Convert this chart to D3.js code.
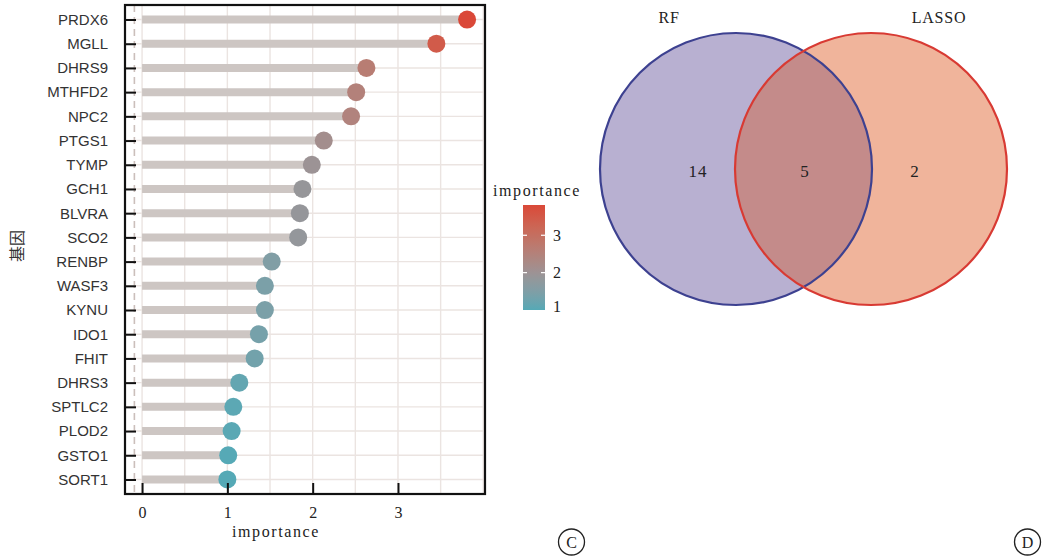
<!DOCTYPE html>
<html>
<head>
<meta charset="utf-8">
<script src="https://cdn.jsdelivr.net/npm/d3@7"></script>
<style>
  html, body { margin: 0; padding: 0; background: #fff; }
  svg { display: block; }
</style>
</head>
<body>
<svg id="chart" width="1053" height="560"></svg>
<script>
// Gene importance (random forest), top to bottom
const genes = ["PRDX6","MGLL","DHRS9","MTHFD2","NPC2","PTGS1","TYMP","GCH1","BLVRA","SCO2",
               "RENBP","WASF3","KYNU","IDO1","FHIT","DHRS3","SPTLC2","PLOD2","GSTO1","SORT1"];
const importance = [3.81,3.45,2.63,2.51,2.45,2.13,1.99,1.88,1.85,1.83,
                    1.52,1.44,1.44,1.37,1.32,1.14,1.07,1.05,1.01,1.00];
const xTicks = [0, 1, 2, 3];
const legendTicks = [1, 2, 3];
const refLine = -0.09;

// Venn counts: RF only, shared, LASSO only
const vennSets = ["RF", "LASSO"];
const vennCounts = [14, 5, 2];

const svg = d3.select("#chart");

// ---------- Lollipop chart ----------
const L = 125, R = 485, T = 5, B = 494;
const x = d3.scaleLinear().domain([-0.2, 4.02]).range([L, R]);
const y = d3.scalePoint().domain(genes).range([T, B]).padding(0.6);

const vmin = d3.min(importance), vmax = d3.max(importance);
const color = d3.scaleLinear()
  .domain([vmin, 1.95, vmax])
  .range(["#55a9b6", "#9a9497", "#da4838"])
  .interpolate(d3.interpolateLab);

const plot = svg.append("g");

// grid
const gridX = d3.range(0, 4.01, 0.5);
plot.append("g").selectAll("line").data(gridX).join("line")
  .attr("x1", d => x(d)).attr("x2", d => x(d))
  .attr("y1", T).attr("y2", B)
  .attr("stroke", "#ebe4e1").attr("stroke-width", 1.4);
plot.append("g").selectAll("line").data(genes).join("line")
  .attr("x1", L).attr("x2", R)
  .attr("y1", d => y(d)).attr("y2", d => y(d))
  .attr("stroke", "#ebe4e1").attr("stroke-width", 1.4);

// dashed reference line
plot.append("line")
  .attr("x1", x(refLine)).attr("x2", x(refLine))
  .attr("y1", T).attr("y2", B)
  .attr("stroke", "#cbbfbb").attr("stroke-width", 1.6)
  .attr("stroke-dasharray", "7,5");

// stems
plot.append("g").selectAll("line").data(genes).join("line")
  .attr("x1", x(0)).attr("x2", (d, i) => x(importance[i]))
  .attr("y1", d => y(d)).attr("y2", d => y(d))
  .attr("stroke", "#cdc6c3").attr("stroke-width", 8);

// heads
plot.append("g").selectAll("circle").data(genes).join("circle")
  .attr("cx", (d, i) => x(importance[i]))
  .attr("cy", d => y(d))
  .attr("r", 9)
  .attr("fill", (d, i) => color(importance[i]));

// frame
plot.append("rect")
  .attr("x", L).attr("y", T).attr("width", R - L).attr("height", B - T)
  .attr("fill", "none").attr("stroke", "#111").attr("stroke-width", 2.2);

// y axis (inward ticks)
const yAxis = plot.append("g").attr("transform", `translate(${L},0)`)
  .call(d3.axisLeft(y).tickSizeInner(-11).tickSizeOuter(0).tickPadding(17));
yAxis.select(".domain").remove();
yAxis.selectAll(".tick line").attr("stroke", "#111").attr("stroke-width", 2);
yAxis.selectAll(".tick text")
  .attr("font-family", "'Liberation Sans', Arial, sans-serif")
  .attr("font-size", 15).attr("fill", "#333");

// x axis (inward ticks)
const xAxis = plot.append("g").attr("transform", `translate(0,${B})`)
  .call(d3.axisBottom(x).tickValues(xTicks).tickFormat(d3.format("d"))
        .tickSizeInner(-11).tickSizeOuter(0).tickPadding(13));
xAxis.select(".domain").remove();
xAxis.selectAll(".tick line").attr("stroke", "#111").attr("stroke-width", 2);
xAxis.selectAll(".tick text")
  .attr("font-family", "'Liberation Serif', serif")
  .attr("font-size", 16).attr("fill", "#222");

// axis titles
svg.append("text")
  .attr("x", x(1.57)).attr("y", 537)
  .attr("text-anchor", "middle")
  .attr("font-family", "'Liberation Serif', serif").attr("font-size", 16)
  .attr("letter-spacing", 1.6).attr("fill", "#222")
  .text("importance");

svg.append("text")
  .attr("transform", "translate(23,246) rotate(-90)")
  .attr("text-anchor", "middle")
  .attr("font-family", "'Noto Sans CJK SC', sans-serif").attr("font-size", 16)
  .attr("fill", "#333")
  .text("基因");

// ---------- Colour legend ----------
const lg = svg.append("g");
const lx = 523, lw = 22, ly0 = 205, ly1 = 310;
const ly = d3.scaleLinear().domain([vmin, vmax]).range([ly1, ly0]);
const defs = svg.append("defs");
const grad = defs.append("linearGradient").attr("id", "imp-grad")
  .attr("x1", 0).attr("x2", 0).attr("y1", 1).attr("y2", 0);
d3.range(0, 1.0001, 0.05).forEach(t => {
  grad.append("stop").attr("offset", t)
    .attr("stop-color", color(vmin + t * (vmax - vmin)));
});
lg.append("rect").attr("x", lx).attr("y", ly0).attr("width", lw).attr("height", ly1 - ly0)
  .attr("fill", "url(#imp-grad)");
lg.selectAll("g.lt").data(legendTicks.filter(v => v > vmin)).join("g").attr("class", "lt")
  .each(function(v) {
    const g = d3.select(this);
    g.append("line").attr("x1", lx).attr("x2", lx + 4).attr("y1", ly(v)).attr("y2", ly(v))
      .attr("stroke", "#fff").attr("stroke-width", 1.2);
    g.append("line").attr("x1", lx + lw - 4).attr("x2", lx + lw).attr("y1", ly(v)).attr("y2", ly(v))
      .attr("stroke", "#fff").attr("stroke-width", 1.2);
  });
lg.selectAll("text.lv").data(legendTicks).join("text").attr("class", "lv")
  .attr("x", 553).attr("y", v => Math.min(ly(v), 306.5))
  .attr("dy", "0.35em")
  .attr("font-family", "'Liberation Serif', serif").attr("font-size", 16).attr("fill", "#222")
  .text(d => d);
lg.append("text")
  .attr("x", 537).attr("y", 196)
  .attr("text-anchor", "middle")
  .attr("font-family", "'Liberation Serif', serif").attr("font-size", 16)
  .attr("letter-spacing", 1.6).attr("fill", "#222")
  .text("importance");

// ---------- Venn diagram ----------
const venn = svg.append("g");
const rV = 136;
const centers = [[736, 169], [871, 169]];
const fills = ["#b8b0d1", "#f0b49b"];
const strokes = ["#3d4190", "#d83a33"];

defs.append("clipPath").attr("id", "clip-rf")
  .append("circle").attr("cx", centers[0][0]).attr("cy", centers[0][1]).attr("r", rV);

venn.selectAll("circle.fill").data(vennSets).join("circle").attr("class", "fill")
  .attr("cx", (d, i) => centers[i][0]).attr("cy", (d, i) => centers[i][1]).attr("r", rV)
  .attr("fill", (d, i) => fills[i]);
venn.append("circle")
  .attr("cx", centers[1][0]).attr("cy", centers[1][1]).attr("r", rV)
  .attr("clip-path", "url(#clip-rf)")
  .attr("fill", "#c48b8a");
venn.selectAll("circle.edge").data(vennSets).join("circle").attr("class", "edge")
  .attr("cx", (d, i) => centers[i][0]).attr("cy", (d, i) => centers[i][1]).attr("r", rV)
  .attr("fill", "none").attr("stroke", (d, i) => strokes[i]).attr("stroke-width", 2.2);

venn.selectAll("text.set").data(vennSets).join("text").attr("class", "set")
  .attr("x", (d, i) => [669, 939][i]).attr("y", 23)
  .attr("text-anchor", "middle")
  .attr("font-family", "'Liberation Serif', serif").attr("font-size", 16)
  .attr("letter-spacing", 0.8).attr("fill", "#222")
  .text(d => d);

venn.selectAll("text.cnt").data(vennCounts).join("text").attr("class", "cnt")
  .attr("x", (d, i) => [698, 805, 915][i]).attr("y", 171)
  .attr("dy", "0.35em").attr("text-anchor", "middle")
  .attr("font-family", "'Liberation Serif', serif").attr("font-size", 17)
  .attr("letter-spacing", 1).attr("fill", "#222")
  .text(d => d);

// ---------- Panel letters ----------
const panels = [["C", 571.5], ["D", 1027.5]];
const pg = svg.selectAll("g.panel").data(panels).join("g").attr("class", "panel")
  .attr("transform", d => `translate(${d[1]},542)`);
pg.append("circle").attr("r", 13).attr("fill", "none").attr("stroke", "#222").attr("stroke-width", 1.3);
pg.append("text").attr("dy", "0.36em").attr("text-anchor", "middle")
  .attr("font-family", "'Liberation Serif', serif").attr("font-size", 16).attr("fill", "#222")
  .text(d => d[0]);
</script>
</body>
</html>
